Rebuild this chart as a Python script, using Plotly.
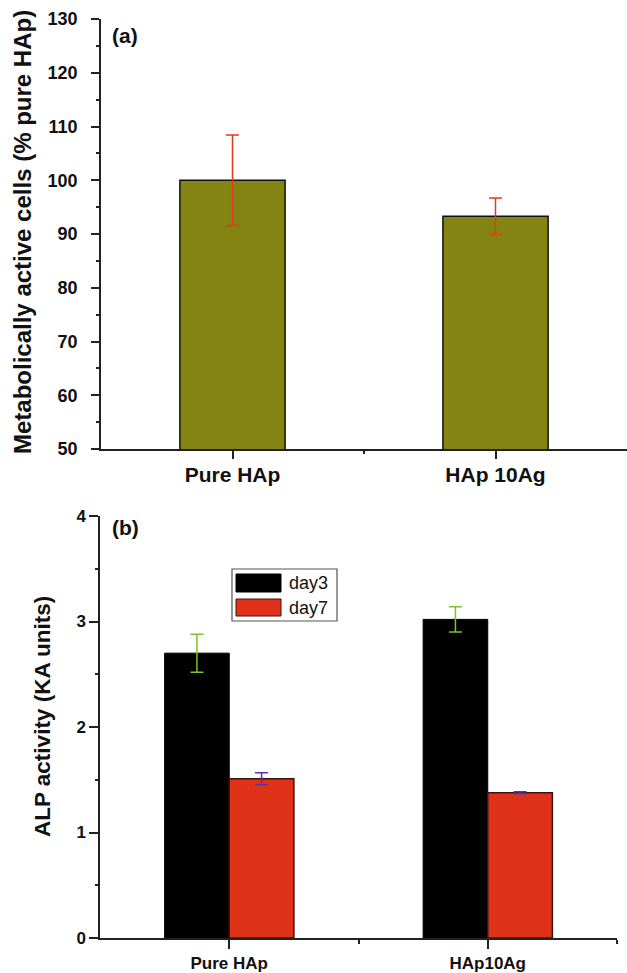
import plotly.graph_objects as go

W, H = 627, 973

# ---- data ----
cats_a = ["Pure HAp", "HAp 10Ag"]
vals_a = [100.0, 93.3]
err_a = [8.4, 3.4]

cats_b = ["Pure HAp", "HAp10Ag"]
day3_vals = [2.70, 3.02]
day3_err = [0.18, 0.12]
day7_vals = [1.51, 1.377]
day7_err = [0.057, 0.01]

yticks_a = [50, 60, 70, 80, 90, 100, 110, 120, 130]
yticks_b = [0, 1, 2, 3, 4]

FONT = "Liberation Sans, Arial, Helvetica, sans-serif"

def px(x, y):
    return x / W, 1 - y / H

xa = list(range(len(cats_a)))
xb = list(range(len(cats_b)))

fig = go.Figure()

fig.add_trace(go.Bar(
    x=xa, y=vals_a, width=0.4, xaxis="x", yaxis="y",
    marker=dict(color="#848412", line=dict(color="#111111", width=1.5)),
    error_y=dict(type="data", array=err_a, color="#e2391f", thickness=1.5, width=6.5),
    showlegend=False,
))
fig.add_trace(go.Bar(
    x=xb, y=day3_vals, name="day3", xaxis="x2", yaxis="y2",
    marker=dict(color="#000000", line=dict(color="#000000", width=1)),
    error_y=dict(type="data", array=day3_err, color="#7cc423", thickness=1.5, width=6.5),
    showlegend=False,
))
fig.add_trace(go.Bar(
    x=xb, y=day7_vals, name="day7", xaxis="x2", yaxis="y2",
    marker=dict(color="#e03218", line=dict(color="#3a1410", width=1.5)),
    error_y=dict(type="data", array=day7_err, color="#5a35a8", thickness=1.5, width=6.5),
    showlegend=False,
))

axis_common = dict(showline=True, linecolor="#222222", linewidth=1.5, showgrid=False,
                   zeroline=False, ticks="outside", tickcolor="#222222", tickwidth=1.5,
                   automargin=False)

x0a, y0a = px(101, 449)
x1a, y1a = px(627, 19)
x0b, y0b = px(100, 938)
x1b, y1b = px(617, 516)

fig.update_layout(
    width=W, height=H,
    margin=dict(l=0, r=0, t=0, b=0),
    paper_bgcolor="white", plot_bgcolor="white",
    barmode="group", bargap=0.5, bargroupgap=0,
    font=dict(family=FONT, color="#111111"),
    xaxis=dict(domain=[x0a, x1a], anchor="y", range=[-0.5, 1.5],
               tickvals=xa, ticktext=cats_a, ticklen=8, ticklabelstandoff=-2,
               tickfont=dict(size=21, family=FONT, weight="bold"),
               minor=dict(tickvals=[0.5], ticklen=3, tickcolor="#222222", tickwidth=1.5),
               **axis_common),
    yaxis=dict(domain=[y0a, y1a], anchor="x", range=[50, 130],
               tickvals=yticks_a, ticklen=8, ticklabelstandoff=10,
               tickfont=dict(size=18, family=FONT, weight="bold"),
               minor=dict(dtick=5, ticklen=3, tickcolor="#222222", tickwidth=1.5),
               **axis_common),
    xaxis2=dict(domain=[x0b, x1b], anchor="y2", range=[-0.5, 1.5],
                tickvals=xb, ticktext=cats_b, ticklen=9,
                tickfont=dict(size=17, family=FONT, weight="bold"),
                minor=dict(tickvals=[0.5, 1.5], ticklen=4, tickcolor="#222222", tickwidth=1.5),
                **axis_common),
    yaxis2=dict(domain=[y0b, y1b], anchor="x2", range=[0, 4],
                tickvals=yticks_b, ticklen=9, ticklabelstandoff=0,
                tickfont=dict(size=17, family=FONT, weight="bold"),
                minor=dict(dtick=0.5, ticklen=3, tickcolor="#222222", tickwidth=1.5),
                **axis_common),
)

annots = []
# axis titles
ax, ay = px(22, 232)
annots.append(dict(x=ax, y=ay, xref="paper", yref="paper", text="<b>Metabolically active cells (% pure HAp)</b>",
                   textangle=-90, showarrow=False, font=dict(size=24, family=FONT, color="#111111"),
                   xanchor="center", yanchor="middle"))
ax, ay = px(42, 717)
annots.append(dict(x=ax, y=ay, xref="paper", yref="paper", text="<b>ALP activity (KA units)</b>",
                   textangle=-90, showarrow=False, font=dict(size=22.5, family=FONT, color="#111111"),
                   xanchor="center", yanchor="middle"))
# panel labels
for lab, (lx, ly) in [("(a)", (125, 35)), ("(b)", (125, 527))]:
    x_, y_ = px(lx, ly)
    annots.append(dict(x=x_, y=y_, xref="paper", yref="paper", text=f"<b>{lab}</b>", showarrow=False,
                       font=dict(size=21, family=FONT, color="#111111"), xanchor="center", yanchor="middle"))

# custom legend (big swatches like the original)
shapes = []
bx0, by0 = px(232, 569)
bx1, by1 = px(337, 621)
shapes.append(dict(type="rect", xref="paper", yref="paper", x0=bx0, y0=by1, x1=bx1, y1=by0,
                   line=dict(color="#555555", width=1.2), fillcolor="white"))
legend_items = [("day3", "#000000", "#000000", 574, 592), ("day7", "#e03218", "#3a1410", 599, 616)]
for name, fill, edge, ya_, yb_ in legend_items:
    sx0, sy0 = px(236, ya_)
    sx1, sy1 = px(281, yb_)
    shapes.append(dict(type="rect", xref="paper", yref="paper", x0=sx0, y0=sy1, x1=sx1, y1=sy0,
                       line=dict(color=edge, width=1), fillcolor=fill))
    tx, ty = px(287, (ya_ + yb_) / 2)
    annots.append(dict(x=tx, y=ty, xref="paper", yref="paper", text=name, showarrow=False,
                       font=dict(size=18, family=FONT, color="#111111"), xanchor="left", yanchor="middle"))

fig.update_layout(annotations=annots, shapes=shapes)

fig.write_html("out.html", config={"displayModeBar": False},
               post_script="document.body.style.margin='0';document.body.style.overflow='hidden';")
